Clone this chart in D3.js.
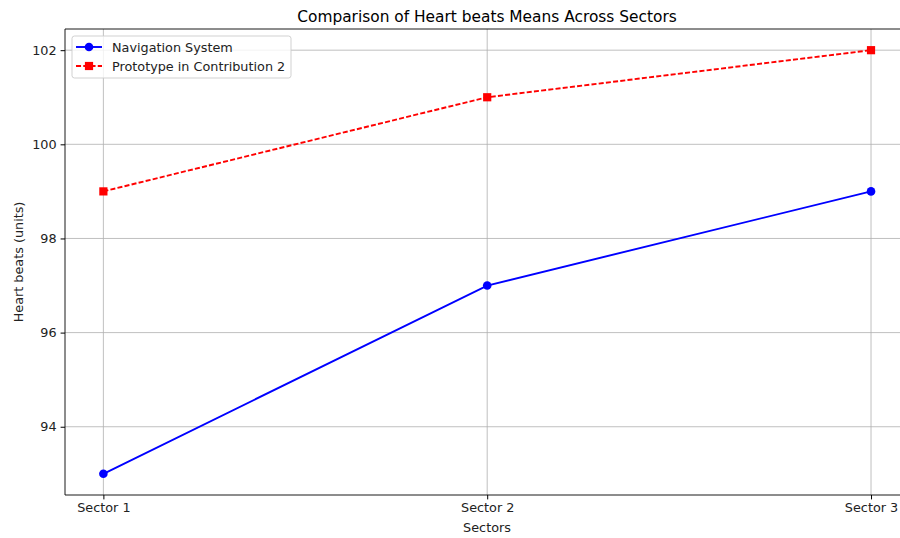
<!DOCTYPE html>
<html>
<head>
<meta charset="utf-8">
<script src="https://cdn.jsdelivr.net/npm/d3@7"></script>
<style>
  body { margin: 0; background: #fff; }
  svg { display: block; font-family: "DejaVu Sans", sans-serif; }
</style>
</head>
<body>
<svg id="chart" width="900" height="538"></svg>
<script>
// data
const sectors = ["Sector 1", "Sector 2", "Sector 3"];
const navigation = [93, 97, 99];
const prototype = [99, 101, 102];
const yTicks = [94, 96, 98, 100, 102];

const width = 900, height = 538;
const margin = {top: 29, left: 65, bottom: 495};

const svg = d3.select("#chart");

// matplotlib style: 5% padding on both sides, right side runs past the image
const x = d3.scaleLinear([-0.1, 2.1], [margin.left, 909.4]);
const y = d3.scaleLinear([92.55, 102.45], [margin.bottom, margin.top]);

const grid = svg.append("g");
grid.selectAll("line.gy").data(yTicks).join("line")
    .attr("x1", margin.left).attr("x2", width)
    .attr("y1", d => y(d)).attr("y2", d => y(d))
    .attr("stroke", "#b0b0b0").attr("stroke-width", 0.8);
grid.selectAll("line.gx").data(sectors).join("line")
    .attr("x1", (d, i) => x(i)).attr("x2", (d, i) => x(i))
    .attr("y1", margin.top).attr("y2", margin.bottom)
    .attr("stroke", "#b0b0b0").attr("stroke-width", 0.8);

// axes
svg.append("g")
    .attr("transform", `translate(0,${margin.bottom})`)
    .call(d3.axisBottom(x).tickValues([0, 1, 2]).tickFormat(i => sectors[i]).tickSize(4.4).tickPadding(4).tickSizeOuter(0))
    .call(g => g.select(".domain").remove())
    .call(g => g.selectAll("text").attr("font-size", 12.8).attr("fill", "#222").attr("font-family", "DejaVu Sans"));

svg.append("g")
    .attr("transform", `translate(${margin.left},0)`)
    .call(d3.axisLeft(y).tickValues(yTicks).tickSize(4.4).tickPadding(4).tickSizeOuter(0))
    .call(g => g.select(".domain").remove())
    .call(g => g.selectAll("text").attr("font-size", 12.8).attr("fill", "#222").attr("font-family", "DejaVu Sans"));

// spines
svg.append("line").attr("x1", margin.left).attr("x2", width).attr("y1", margin.bottom).attr("y2", margin.bottom)
    .attr("stroke", "#000").attr("stroke-width", 0.9);
svg.append("line").attr("x1", margin.left).attr("x2", width).attr("y1", margin.top).attr("y2", margin.top)
    .attr("stroke", "#000").attr("stroke-width", 0.9);
svg.append("line").attr("x1", margin.left).attr("x2", margin.left).attr("y1", margin.top).attr("y2", margin.bottom)
    .attr("stroke", "#000").attr("stroke-width", 0.9);

const line = d3.line().x((d, i) => x(i)).y(d => y(d));

// Navigation System
svg.append("path").datum(navigation)
    .attr("fill", "none").attr("stroke", "#0000ff").attr("stroke-width", 1.9)
    .attr("d", line);
svg.selectAll("circle.nav").data(navigation).join("circle")
    .attr("cx", (d, i) => x(i)).attr("cy", d => y(d)).attr("r", 4.3)
    .attr("fill", "#0000ff");

// Prototype
svg.append("path").datum(prototype)
    .attr("fill", "none").attr("stroke", "#ff0000").attr("stroke-width", 1.9)
    .attr("stroke-dasharray", "5.05,2.2")
    .attr("d", line);
svg.selectAll("rect.proto").data(prototype).join("rect")
    .attr("x", (d, i) => x(i) - 4.1).attr("y", d => y(d) - 4.1)
    .attr("width", 8.2).attr("height", 8.2)
    .attr("fill", "#ff0000");

// title and labels
svg.append("text").attr("x", 487).attr("y", 22).attr("text-anchor", "middle")
    .attr("font-size", 15.4).attr("fill", "#000")
    .text("Comparison of Heart beats Means Across Sectors");
svg.append("text").attr("x", 487).attr("y", 532).attr("text-anchor", "middle")
    .attr("font-size", 12.8).attr("fill", "#222").text("Sectors");
svg.append("text").attr("transform", "translate(23,262) rotate(-90)").attr("text-anchor", "middle")
    .attr("font-size", 12.8).attr("fill", "#222").text("Heart beats (units)");

// legend
const legend = svg.append("g").attr("transform", "translate(72,36)");
legend.append("rect").attr("width", 219).attr("height", 42).attr("rx", 2.5)
    .attr("fill", "#fff").attr("fill-opacity", 0.8).attr("stroke", "#ccc").attr("stroke-width", 0.9);
const items = [
  {name: "Navigation System", color: "#0000ff", dash: null, marker: "circle"},
  {name: "Prototype in Contribution 2", color: "#ff0000", dash: "5.05,2.2", marker: "square"}
];
items.forEach((it, i) => {
  const cy = 11 + i * 19;
  legend.append("line").attr("x1", 4).attr("x2", 30).attr("y1", cy).attr("y2", cy)
      .attr("stroke", it.color).attr("stroke-width", 1.9).attr("stroke-dasharray", it.dash);
  if (it.marker === "circle") {
    legend.append("circle").attr("cx", 17).attr("cy", cy).attr("r", 4.3).attr("fill", it.color);
  } else {
    legend.append("rect").attr("x", 12.9).attr("y", cy - 4.1).attr("width", 8.2).attr("height", 8.2).attr("fill", it.color);
  }
  legend.append("text").attr("x", 40).attr("y", cy + 4.5).attr("font-size", 12.8).attr("fill", "#222").text(it.name);
});
</script>
</body>
</html>
